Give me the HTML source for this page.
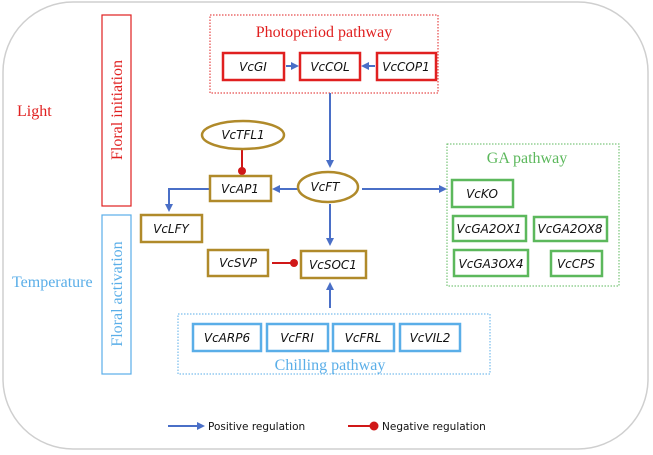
<!DOCTYPE html>
<html><head><style>
body{margin:0;background:#fff;}
svg{display:block}
.i{font-family:"DejaVu Sans","Liberation Sans",sans-serif;font-style:italic;font-size:12px;text-anchor:middle;fill:#111}
.s{font-family:"Liberation Serif",serif;}
</style></head><body>
<svg width="653" height="455" viewBox="0 0 653 455">
<defs>
<marker id="a" markerWidth="8" markerHeight="8" refX="6" refY="4" orient="auto" markerUnits="userSpaceOnUse"><path d="M0,0 L8,4 L0,8 z" fill="#4a6fc7"/></marker>
</defs>
<rect x="3" y="2" width="645" height="447" rx="70" fill="none" stroke="#cfcfcf" stroke-width="1.5"/>
<text x="17" y="116" class="s" font-size="16" fill="#e02020">Light</text>
<text x="12" y="287" class="s" font-size="16" fill="#5aaee8">Temperature</text>
<rect x="102" y="15" width="29" height="191" fill="none" stroke="#e02020" stroke-width="1.2"/>
<text transform="translate(122,110) rotate(-90)" class="s" font-size="16" fill="#e02020" text-anchor="middle">Floral initiation</text>
<rect x="102" y="215" width="29" height="159" fill="none" stroke="#5aaee8" stroke-width="1.2"/>
<text transform="translate(122,294) rotate(-90)" class="s" font-size="16" fill="#5aaee8" text-anchor="middle">Floral activation</text>
<rect x="210" y="15" width="228" height="78" fill="none" stroke="#e02020" stroke-dasharray="1.5,1.5"/>
<text x="324" y="37" class="s" font-size="16" fill="#e02020" text-anchor="middle">Photoperiod pathway</text>
<g fill="#fff" stroke="#e02020" stroke-width="2.5">
<rect x="223" y="53" width="61" height="27"/><rect x="300" y="53" width="60" height="27"/><rect x="377" y="53" width="59" height="27"/></g>
<text x="253" y="71" class="i">VcGI</text><text x="330" y="71" class="i">VcCOL</text><text x="406" y="71" class="i">VcCOP1</text>
<g stroke="#4a6fc7" stroke-width="2" fill="none">
<line x1="286" y1="66" x2="297" y2="66" marker-end="url(#a)"/>
<line x1="375" y1="66" x2="363" y2="66" marker-end="url(#a)"/>
<line x1="330" y1="93" x2="330" y2="166" marker-end="url(#a)"/>
<line x1="298" y1="189" x2="274" y2="189" marker-end="url(#a)"/>
<polyline points="209,189 169,189 169,210" marker-end="url(#a)"/>
<line x1="330" y1="204" x2="330" y2="244" marker-end="url(#a)"/>
<line x1="330" y1="308" x2="330" y2="284" marker-end="url(#a)"/>
<line x1="362" y1="189" x2="445" y2="189" marker-end="url(#a)"/>
<line x1="168" y1="426" x2="203" y2="426" marker-end="url(#a)"/>
</g>
<g stroke="#d01818" stroke-width="2"><line x1="242" y1="150" x2="242" y2="170"/><line x1="272" y1="263" x2="293" y2="263"/><line x1="348" y1="426" x2="374" y2="426"/></g>
<g fill="#d01818"><circle cx="242" cy="171" r="4"/><circle cx="294" cy="263" r="4"/><circle cx="374" cy="426" r="4.5"/></g>
<g fill="#fff" stroke="#b08a2a" stroke-width="2.5">
<ellipse cx="243" cy="135" rx="41" ry="14"/>
<ellipse cx="328" cy="187" rx="30" ry="15"/>
<rect x="210" y="176" width="61" height="25"/>
<rect x="141" y="215" width="61" height="27"/>
<rect x="208" y="250" width="60" height="26"/>
<rect x="301" y="251" width="65" height="27"/></g>
<text x="243" y="139" class="i">VcTFL1</text><text x="325" y="191" class="i">VcFT</text>
<text x="240" y="193" class="i">VcAP1</text><text x="171" y="233" class="i">VcLFY</text>
<text x="238" y="267" class="i">VcSVP</text><text x="333" y="269" class="i">VcSOC1</text>
<rect x="447" y="144" width="172" height="142" fill="none" stroke="#5cb85c" stroke-dasharray="1.5,1.5"/>
<text x="527" y="163" class="s" font-size="16" fill="#5cb85c" text-anchor="middle">GA pathway</text>
<g fill="#fff" stroke="#5cb85c" stroke-width="2.5">
<rect x="452" y="180" width="61" height="27"/><rect x="453" y="216" width="73" height="25"/><rect x="534" y="217" width="73" height="24"/>
<rect x="454" y="250" width="74" height="26"/><rect x="551" y="251" width="51" height="25"/></g>
<text x="482" y="198" class="i">VcKO</text><text x="489" y="233" class="i">VcGA2OX1</text><text x="570" y="233" class="i">VcGA2OX8</text>
<text x="491" y="268" class="i">VcGA3OX4</text><text x="576" y="268" class="i">VcCPS</text>
<rect x="178" y="314" width="312" height="60" fill="none" stroke="#5aaee8" stroke-dasharray="1.5,1.5"/>
<g fill="#fff" stroke="#5aaee8" stroke-width="2.5">
<rect x="193" y="324" width="68" height="27"/><rect x="267" y="324" width="61" height="27"/><rect x="333" y="324" width="61" height="27"/><rect x="400" y="324" width="60" height="27"/></g>
<text x="227" y="342" class="i">VcARP6</text><text x="297" y="342" class="i">VcFRI</text><text x="363" y="342" class="i">VcFRL</text><text x="430" y="342" class="i">VcVIL2</text>
<text x="330" y="370" class="s" font-size="16" fill="#5aaee8" text-anchor="middle">Chilling pathway</text>
<text x="208" y="430" font-family="DejaVu Sans,Liberation Sans,sans-serif" font-size="10.5" fill="#111">Positive regulation</text>
<text x="382" y="430" font-family="DejaVu Sans,Liberation Sans,sans-serif" font-size="10.5" fill="#111">Negative regulation</text>
</svg>
</body></html>
